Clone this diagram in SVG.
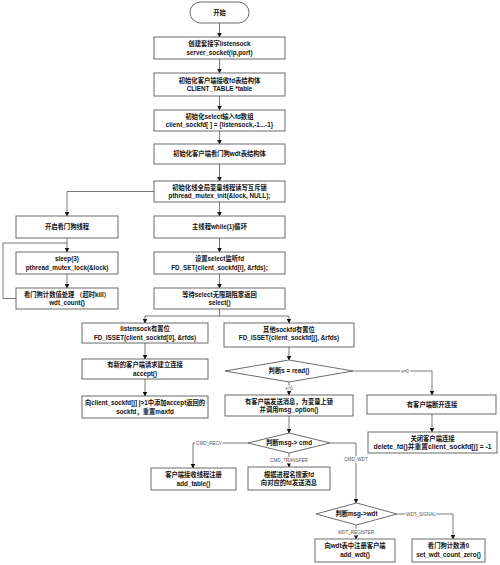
<svg xmlns="http://www.w3.org/2000/svg" width="500" height="565" viewBox="0 0 500 565">
<style>
.n rect,.n polygon{fill:#fff;stroke:#5a5a5a;stroke-width:0.9}
text{font-family:"Liberation Sans","Noto Sans CJK SC",sans-serif;font-size:6.3px;font-weight:bold;text-anchor:middle;fill:#111}
.c path{fill:none;stroke:#555;stroke-width:0.8}
.lbl{font-size:4.6px;font-weight:normal;fill:#555;paint-order:stroke;stroke:#fff;stroke-width:2.5px}
</style>
<defs>
<marker id="ah" markerUnits="userSpaceOnUse" markerWidth="5" markerHeight="5" refX="4.5" refY="2.5" orient="auto">
<path d="M0,0 L5,2.5 L0,5 z" fill="#111"/>
</marker>
</defs>
<rect width="500" height="565" fill="#fff"/>
<g class="c">
<path d="M219.5,23 V37" marker-end="url(#ah)"/>
<path d="M219.5,59 V73" marker-end="url(#ah)"/>
<path d="M219.5,96 V110" marker-end="url(#ah)"/>
<path d="M219.5,131 V144" marker-end="url(#ah)"/>
<path d="M219.5,164 V181" marker-end="url(#ah)"/>
<path d="M219.5,202 V216" marker-end="url(#ah)"/>
<path d="M219.5,238 V252" marker-end="url(#ah)"/>
<path d="M219.5,274 V288" marker-end="url(#ah)"/>
<path d="M154,191.5 H67 V216" marker-end="url(#ah)"/>
<path d="M67,238 V252" marker-end="url(#ah)"/>
<path d="M67,274 V288" marker-end="url(#ah)"/>
<path d="M16,298.5 H3 V243 H67"/>
<path d="M219.5,309 V316 H145 V323" marker-end="url(#ah)"/>
<path d="M219.5,316 H289 V323" marker-end="url(#ah)"/>
<path d="M145,343 V359" marker-end="url(#ah)"/>
<path d="M145,379 V396" marker-end="url(#ah)"/>
<path d="M289,347 V360" marker-end="url(#ah)"/>
<path d="M289,382 V395" marker-end="url(#ah)"/>
<path d="M353,371 H432 V395" marker-end="url(#ah)"/>
<path d="M432,414 V432" marker-end="url(#ah)"/>
<path d="M289,416 V433" marker-end="url(#ah)"/>
<path d="M248,443 H193 V468" marker-end="url(#ah)"/>
<path d="M289,453 V467" marker-end="url(#ah)"/>
<path d="M330,443 H356 V503" marker-end="url(#ah)"/>
<path d="M397,514 H453 V539" marker-end="url(#ah)"/>
<path d="M356,525 V539" marker-end="url(#ah)"/>
<text class="lbl" x="405" y="372.5">s=0</text>
<text class="lbl" x="289" y="389.5">s&gt;0</text>
<text class="lbl" x="209" y="444.5">CMD_RECV</text>
<text class="lbl" x="289" y="461.5">CMD_TRANSFER</text>
<text class="lbl" x="356" y="460.5">CMD_WDT</text>
<text class="lbl" x="421" y="515.5">WDT_SIGNAL</text>
<text class="lbl" x="356" y="533.5">WDT_REGISTER</text>
</g>
<g id="start" class="n"><rect x="190" y="2" width="59" height="21" rx="10.5"/><text x="219.5" y="14.7">开始</text></g>
<g id="b1" class="n"><rect x="154" y="37" width="131" height="22"/><text x="219.5" y="46">创建套接字listensock</text><text x="219.5" y="54.5">server_socket(ip,port)</text></g>
<g id="b2" class="n"><rect x="154" y="73" width="131" height="23"/><text x="219.5" y="82.5">初始化客户端接收fd表结构体</text><text x="219.5" y="91">CLIENT_TABLE *table</text></g>
<g id="b3" class="n"><rect x="154" y="110" width="131" height="21"/><text x="219.5" y="118.5">初始化select输入fd数组</text><text x="219.5" y="127">client_sockfd[ ] = {listensock,-1...-1}</text></g>
<g id="b4" class="n"><rect x="154" y="144" width="131" height="20"/><text x="219.5" y="156.3">初始化客户端看门狗wdt表结构体</text></g>
<g id="b5" class="n"><rect x="154" y="181" width="131" height="21"/><text x="219.5" y="189.5">初始化线全局变量线程读写互斥锁</text><text x="219.5" y="198">pthread_mutex_init(&amp;lock, NULL);</text></g>
<g id="b6" class="n"><rect x="154" y="216" width="131" height="22"/><text x="219.5" y="229.3">主线程while(1)循环</text></g>
<g id="b7" class="n"><rect x="154" y="252" width="131" height="22"/><text x="219.5" y="261">设置select监听fd</text><text x="219.5" y="269.5">FD_SET(client_sockfd[i], &amp;rfds);</text></g>
<g id="b8" class="n"><rect x="154" y="288" width="131" height="21"/><text x="219.5" y="296.5">等待select无限期阻塞返回</text><text x="219.5" y="305">select()</text></g>
<g id="w1" class="n"><rect x="16" y="216" width="102" height="22"/><text x="67" y="229.3">开启看门狗线程</text></g>
<g id="w2" class="n"><rect x="16" y="252" width="102" height="22"/><text x="67" y="261">sleep(3)</text><text x="67" y="269.5">pthread_mutex_lock(&amp;lock)</text></g>
<g id="w3" class="n"><rect x="16" y="288" width="102" height="21"/><text x="67" y="296.5">看门狗计数值处理 （超时kill）</text><text x="67" y="305">wdt_count()</text></g>
<g id="l1" class="n"><rect x="82" y="323" width="126" height="20"/><text x="145" y="331">listensock有置位</text><text x="145" y="339.5">FD_ISSET(client_sockfd[0], &amp;rfds)</text></g>
<g id="l2" class="n"><rect x="82" y="359" width="126" height="20"/><text x="145" y="367">有新的客户端请求建立连接</text><text x="145" y="375.5">accept()</text></g>
<g id="l3" class="n"><rect x="82" y="396" width="126" height="22"/><text x="145" y="405" textLength="120" lengthAdjust="spacingAndGlyphs">向client_sockfd[j] j&gt;1中添加accept返回的</text><text x="145" y="413.5">sockfd，重置maxfd</text></g>
<g id="r1" class="n"><rect x="224" y="323" width="130" height="24"/><text x="289" y="331.5">其他sockfd有置位</text><text x="289" y="340">FD_ISSET(client_sockfd[j], &amp;rfds)</text></g>
<g id="d1" class="n"><polygon points="225,371 289,360 353,371 289,382"/><text x="289" y="373.3">判断s = read()</text></g>
<g id="r2" class="n"><rect x="225" y="395" width="128" height="21"/><text x="289" y="403.5">有客户端发送消息，为变量上锁</text><text x="289" y="412">并调用msg_option()</text></g>
<g id="k1" class="n"><rect x="367" y="395" width="129" height="19"/><text x="432" y="406.8">有客户端断开连接</text></g>
<g id="k2" class="n"><rect x="368" y="432" width="129" height="21"/><text x="432.5" y="440.5">关闭客户端连接</text><text x="432.5" y="449" textLength="118" lengthAdjust="spacingAndGlyphs">delete_fd()并重置client_sockfd[j] = -1</text></g>
<g id="d2" class="n"><polygon points="248,443 289,433 330,443 289,453"/><text x="289" y="445.3">判断msg-&gt; cmd</text></g>
<g id="c1" class="n"><rect x="151" y="468" width="85" height="22"/><text x="193.5" y="477">客户端接收线程注册</text><text x="193.5" y="485.5">add_table()</text></g>
<g id="c2" class="n"><rect x="248" y="467" width="82" height="23"/><text x="289" y="476.5">根据进程名搜索fd</text><text x="289" y="485">向对应的fd发送消息</text></g>
<g id="d3" class="n"><polygon points="316,514 356.5,503 397,514 356.5,525"/><text x="356.5" y="516.3">判断msg-&gt;wdt</text></g>
<g id="e1" class="n"><rect x="315" y="539" width="80" height="23"/><text x="355" y="548">向wdt表中注册客户端</text><text x="355" y="556.5">add_wdt()</text></g>
<g id="e2" class="n"><rect x="412" y="539" width="73" height="23"/><text x="448.5" y="548">看门狗计数清0</text><text x="448.5" y="556.5">set_wdt_count_zero()</text></g>
</svg>
